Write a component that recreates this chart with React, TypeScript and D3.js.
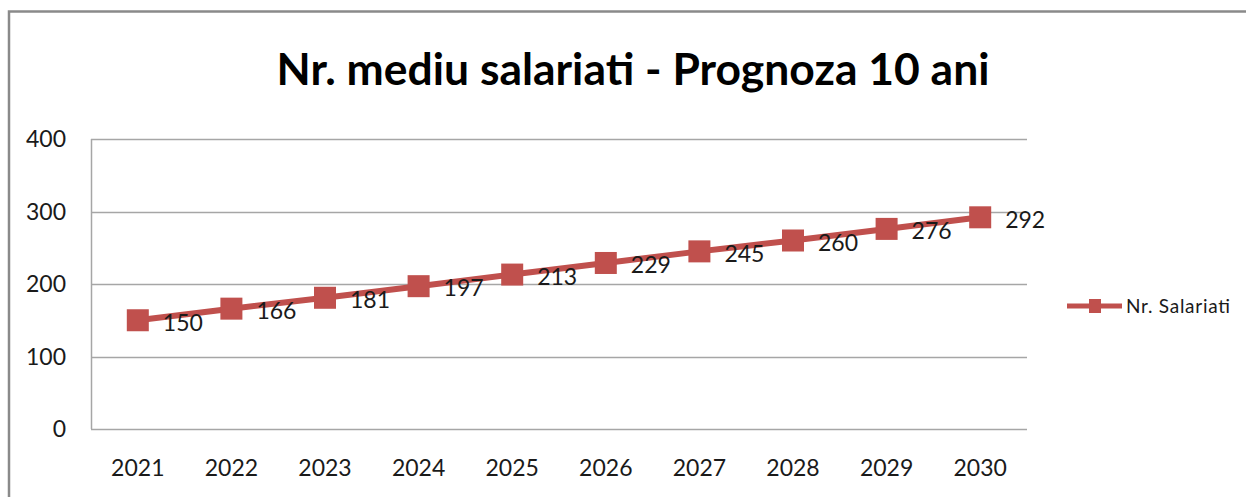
import React, { useEffect, useRef } from "react";
import * as d3 from "d3";

const years = ["2021", "2022", "2023", "2024", "2025", "2026", "2027", "2028", "2029", "2030"];
const salariati = [150, 166, 181, 197, 213, 229, 245, 260, 276, 292];
const yTicks = [0, 100, 200, 300, 400];
const seriesName = "Nr. Salariati";
const title = "Nr. mediu salariati - Prognoza 10 ani";

const W = 1246;
const H = 497;
const RED = "#c0504d";
const FONT = "Lato, 'Open Sans', sans-serif";

const App: React.FC = () => {
  const svgRef = useRef<SVGSVGElement>(null);

  useEffect(() => {
    const svg = d3.select(svgRef.current);
    svg.selectAll("*").remove();

    const left = 91;
    const right = 1027;
    const top = 139;
    const bottom = 429;

    const x = d3.scaleBand().domain(years).range([left, right]);
    const y = d3.scaleLinear().domain([0, 400]).range([bottom, top]);

    // outer frame (goes off the picture on right and bottom)
    svg
      .append("path")
      .attr("d", `M9,${H + 5}V11.5H${W + 5}`)
      .attr("fill", "none")
      .attr("stroke", "#8a8a8a")
      .attr("stroke-width", 2.5);

    svg
      .append("text")
      .attr("x", 633)
      .attr("y", 85)
      .attr("text-anchor", "middle")
      .attr("font-family", FONT)
      .attr("font-weight", 700)
      .attr("font-size", 44)
      .attr("textLength", 713)
      .attr("lengthAdjust", "spacingAndGlyphs")
      .attr("fill", "#000")
      .text(title);

    // gridlines
    svg
      .append("g")
      .selectAll("line")
      .data(yTicks)
      .join("line")
      .attr("x1", left)
      .attr("x2", right)
      .attr("y1", (d) => Math.round(y(d)) + 0.5)
      .attr("y2", (d) => Math.round(y(d)) + 0.5)
      .attr("stroke", "#a6a6a6")
      .attr("stroke-width", 1.5);

    svg
      .append("line")
      .attr("x1", left + 0.5)
      .attr("x2", left + 0.5)
      .attr("y1", top)
      .attr("y2", bottom)
      .attr("stroke", "#a6a6a6")
      .attr("stroke-width", 1.5);

    // y labels
    svg
      .append("g")
      .selectAll("text")
      .data(yTicks)
      .join("text")
      .attr("x", 66)
      .attr("y", (d) => y(d))
      .attr("dy", "0.36em")
      .attr("text-anchor", "end")
      .attr("font-family", FONT)
      .attr("font-size", 23)
      .attr("fill", "#1a1a1a")
      .text((d) => d);

    // x labels
    svg
      .append("g")
      .selectAll("text")
      .data(years)
      .join("text")
      .attr("x", (d) => x(d)! + x.bandwidth() / 2)
      .attr("y", 468)
      .attr("dy", "0.36em")
      .attr("text-anchor", "middle")
      .attr("font-family", FONT)
      .attr("font-size", 23)
      .attr("fill", "#1a1a1a")
      .text((d) => d);

    const pts = years.map((yr, i) => ({ cx: x(yr)! + x.bandwidth() / 2, cy: y(salariati[i]), v: salariati[i] }));

    const line = d3
      .line<{ cx: number; cy: number }>()
      .x((d) => d.cx)
      .y((d) => d.cy);

    svg
      .append("path")
      .attr("d", line(pts))
      .attr("fill", "none")
      .attr("stroke", RED)
      .attr("stroke-width", 6)
      .attr("stroke-linejoin", "round");

    svg
      .append("g")
      .selectAll("rect")
      .data(pts)
      .join("rect")
      .attr("x", (d) => d.cx - 11)
      .attr("y", (d) => d.cy - 11)
      .attr("width", 22)
      .attr("height", 22)
      .attr("fill", RED);

    svg
      .append("g")
      .selectAll("text")
      .data(pts)
      .join("text")
      .attr("x", (d) => d.cx + 25)
      .attr("y", (d) => d.cy + 2)
      .attr("dy", "0.36em")
      .attr("font-family", FONT)
      .attr("font-size", 23)
      .attr("fill", "#1a1a1a")
      .text((d) => d.v);

    // legend
    const lg = svg.append("g").attr("transform", "translate(1067,306)");
    lg.append("line").attr("x1", 0).attr("x2", 55).attr("stroke", RED).attr("stroke-width", 5);
    lg.append("rect").attr("x", 22).attr("y", -7).attr("width", 12).attr("height", 14).attr("fill", RED);
    lg.append("text")
      .attr("x", 59)
      .attr("dy", "0.36em")
      .attr("font-family", FONT)
      .attr("font-size", 19)
      .attr("textLength", 104)
      .attr("lengthAdjust", "spacing")
      .attr("fill", "#1a1a1a")
      .text(seriesName);
  }, []);

  return (
    <svg
      ref={svgRef}
      width={W}
      height={H}
      style={{ position: "absolute", left: 0, top: 0, background: "#fff" }}
    />
  );
};

export default App;
